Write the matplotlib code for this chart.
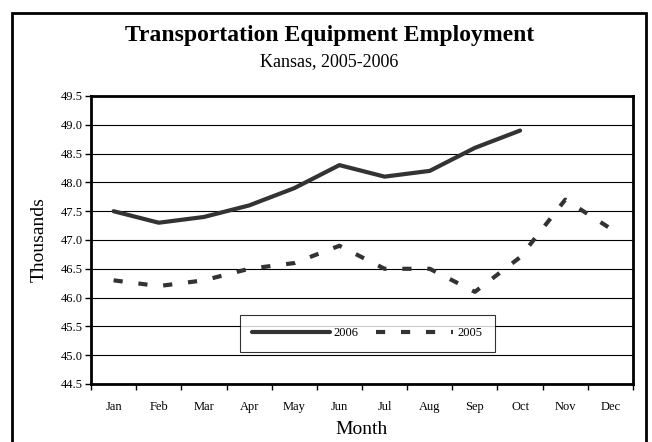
import numpy as np
import matplotlib.pyplot as plt
from matplotlib.patches import Rectangle
from matplotlib.ticker import FormatStrFormatter, FixedLocator

months = ["Jan", "Feb", "Mar", "Apr", "May", "Jun", "Jul", "Aug", "Sep", "Oct", "Nov", "Dec"]
emp_2006 = [47.5, 47.3, 47.4, 47.6, 47.9, 48.3, 48.1, 48.2, 48.6, 48.9]
emp_2005 = [46.3, 46.2, 46.3, 46.5, 46.6, 46.9, 46.5, 46.5, 46.1, 46.7, 47.7, 47.2]

plt.rcParams["font.family"] = ["Liberation Serif", "DejaVu Serif"]

fig = plt.figure(figsize=(6.52, 4.42), dpi=100)
ax = fig.add_axes([91 / 652, 1 - 384 / 442, 542 / 652, 288 / 442])

# cadre extérieur
fig.patches.append(Rectangle((12 / 652, -0.02), 634 / 652, 1 - 13 / 442 + 0.02,
                             transform=fig.transFigure, fill=False,
                             edgecolor="black", linewidth=2))

x05 = np.arange(len(emp_2005))
x06 = np.arange(len(emp_2006))
col = "#333333"
ax.plot(x06, emp_2006, color=col, lw=3, solid_capstyle="round", label="2006")
ax.plot(x05, emp_2005, color=col, lw=3, linestyle=(0, (2.2, 3.8)),
        dash_capstyle="butt", label="2005")

ax.set_xlim(-0.5, 11.5)
ax.set_ylim(44.5, 49.5)
ax.set_yticks(np.arange(44.5, 49.51, 0.5))
ax.yaxis.set_major_formatter(FormatStrFormatter("%.1f"))
ax.grid(axis="y", color="black", lw=0.8)
ax.set_axisbelow(True)

ax.set_xticks(np.arange(12))
ax.set_xticklabels(months)
ax.xaxis.set_minor_locator(FixedLocator(np.arange(-0.5, 12, 1)))
ax.tick_params(axis="x", which="major", length=0, pad=12, labelsize=9)
ax.tick_params(axis="x", which="minor", length=4, width=1)
ax.tick_params(axis="y", length=4, width=1, labelsize=9, pad=2)

for s in ax.spines.values():
    s.set_linewidth(2)

ax.set_ylabel("Thousands", fontsize=14, labelpad=9)
ax.set_xlabel("Month", fontsize=14, labelpad=6)

fig.text(0.505, 1 - 35 / 442, "Transportation Equipment Employment",
         ha="center", va="center", fontsize=17, fontweight="bold")
fig.text(0.505, 1 - 62 / 442, "Kansas, 2005-2006", ha="center", va="center", fontsize=13)

leg = ax.legend(loc="center", bbox_to_anchor=((367 - 91) / 542, (384 - 333) / 288),
                ncol=2, fontsize=9, frameon=True, fancybox=False,
                edgecolor="black", handlelength=6.2, handletextpad=0.3,
                columnspacing=1.4, borderpad=1.0)
leg.get_frame().set_linewidth(0.8)

fig.savefig("out.png", dpi=100)
